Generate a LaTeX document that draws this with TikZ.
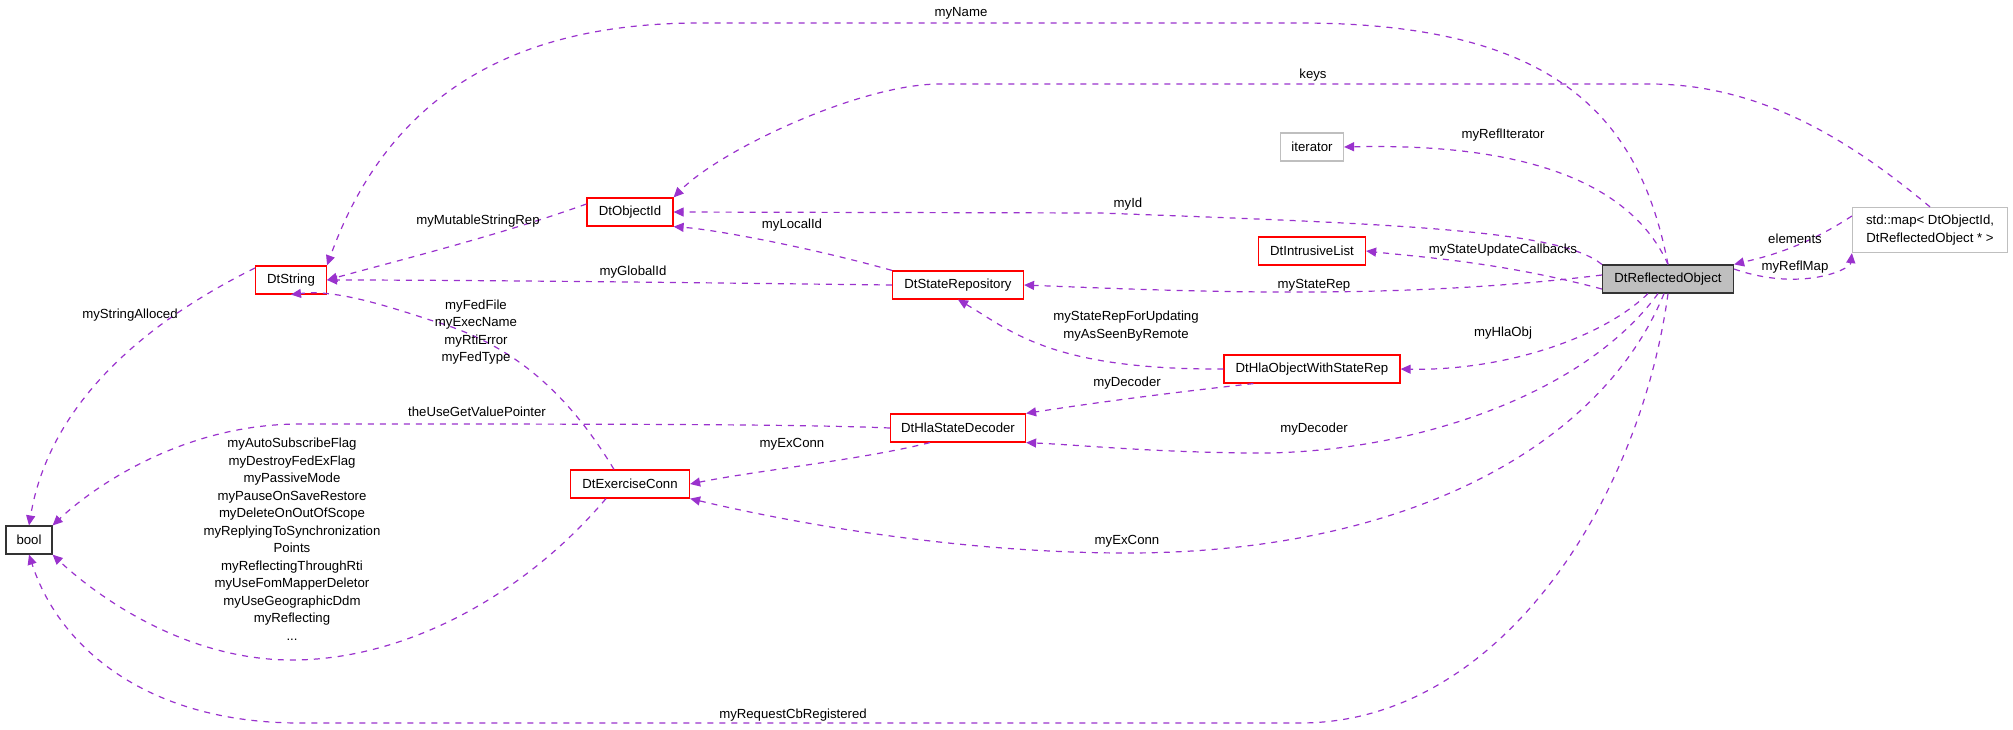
\documentclass[tikz,border=0pt]{standalone}
\usepackage{fontspec}
\setmainfont{Liberation Sans}
\usetikzlibrary{arrows.meta}
\definecolor{edgec}{HTML}{9A32CD}
\definecolor{boxred}{HTML}{FF0000}
\definecolor{boxgrey}{HTML}{BFBFBF}
\begin{document}
\begin{tikzpicture}[x=0.5pt,y=-0.5pt,
  font=\fontsize{6.6}{8.75}\selectfont,
  box/.style={draw=boxred,line width=0.6pt,minimum height=14pt,inner sep=0pt,fill=white},
  gbox/.style={box,draw=boxgrey},
  kbox/.style={box,draw=black!80},
  e/.style={draw=edgec,line width=0.6pt,dash pattern=on 3pt off 3pt,-{Triangle[length=5pt,width=4.5pt]}},
  lab/.style={inner sep=0pt,align=center}]
\useasboundingbox (0,0) rectangle (2013,729);
% nodes
\node[kbox,minimum width=23pt] (bool) at (29,540) {bool};
\node[box,minimum width=35.5pt] (str) at (291,280) {DtString};
\node[box,minimum width=43pt] (oid) at (630,212) {DtObjectId};
\node[box,minimum width=59.5pt] (exc) at (630,484) {DtExerciseConn};
\node[gbox,minimum width=31.5pt] (it) at (1312,147) {iterator};
\node[box,minimum width=53.5pt] (il) at (1312,251) {DtIntrusiveList};
\node[box,minimum width=65.5pt] (sr) at (958,285) {DtStateRepository};
\node[box,minimum width=88pt] (hla) at (1312,369) {DtHlaObjectWithStateRep};
\node[box,minimum width=67.5pt] (dec) at (958,428) {DtHlaStateDecoder};
\node[kbox,fill=boxgrey,minimum width=65.5pt] (ro) at (1668,279) {DtReflectedObject};
\node[gbox,minimum width=77.5pt,minimum height=22.5pt,align=center] (map) at (1930,230) {std::map\textless{} DtObjectId,\\ DtReflectedObject * \textgreater{}};
% edges
\draw[e] (ro.north) .. controls (1640,120) and (1560,23) .. (1300,23) -- (700,23) .. controls (520,23) and (390,90) .. (str.north east);
\draw[e] (map.north) .. controls (1850,140) and (1760,84) .. (1650,84) -- (940,84) .. controls (860,84) and (720,150) .. (oid.north east);
\draw[e] (ro.north) .. controls (1630,180) and (1520,143) .. (it.east);
\draw[e] (ro.north west) .. controls (1560,230) and (1400,224) .. (1100,213) -- (oid.east);
\draw[e] (ro.west) ++(0,-5pt) .. controls (1500,262) and (1420,257) .. (il.east);
\draw[e] (ro.west) ++(0,2pt) .. controls (1400,300) and (1200,292) .. (sr.east);
\draw[e] (ro.south) ++(-10pt,0) .. controls (1600,340) and (1500,371) .. (hla.east);
\draw[e] (ro.south) ++(-5pt,0) .. controls (1580,400) and (1400,455) .. (1250,453) .. controls (1150,452) and (1080,445) .. (dec.south east);
\draw[e] (ro.south) ++(-2pt,0) .. controls (1600,450) and (1400,553) .. (1127,553) .. controls (950,553) and (780,520) .. (exc.south east);
\draw[e] (ro.south) .. controls (1640,500) and (1500,723) .. (1300,723) -- (300,723) .. controls (150,723) and (60,650) .. (bool.south);
\draw[e] (ro.east) ++(0,5pt) .. controls (1800,292) and (1850,270) .. (map.south west);
\draw[e] (map.west) ++(0,7pt) .. controls (1800,250) and (1760,258) .. (ro.north east);
\draw[e] (oid.west) ++(0,4pt) .. controls (500,235) and (400,260) .. (str.east);
\draw[e] (sr.north west) .. controls (820,250) and (720,230) .. (oid.south east);
\draw[e] (sr.west) .. controls (800,284) and (500,280) .. (str.east);
\draw[e] (hla.west) .. controls (1050,370) and (1010,330) .. (sr.south);
\draw[e] (hla.south west) ++(15pt,0) .. controls (1150,395) and (1080,405) .. (dec.north east);
\draw[e] (dec.south west) ++(20pt,0) .. controls (860,460) and (760,470) .. (exc.east);
\draw[e] (dec.west) .. controls (800,424) and (600,424) .. (300,424) .. controls (180,424) and (90,490) .. (bool.north east);
\draw[e] (exc.north) ++(-8pt,0) .. controls (560,380) and (500,340) .. (430,320) .. controls (370,300) and (330,290) .. (str.south);
\draw[e] (exc.south) ++(-12pt,0) .. controls (520,600) and (400,660) .. (292,660) .. controls (180,660) and (90,590) .. (bool.south east);
\draw[e] (str.west) ++(0,6pt) .. controls (150,320) and (50,400) .. (bool.north);
% labels
\node[lab] (l1) at (961,13) {myName};
\node[lab] (l2) at (1313,75) {keys};
\node[lab] (l3) at (1503,135) {myReflIterator};
\node[lab] (l4) at (1128,204) {myId};
\node[lab] (l5) at (1503,250) {myStateUpdateCallbacks};
\node[lab] (l6) at (1314,285) {myStateRep};
\node[lab] (l7) at (1503,333) {myHlaObj};
\node[lab] (l8) at (1314,429) {myDecoder};
\node[lab] (l9) at (1127,541) {myExConn};
\node[lab] (l10) at (793,715) {myRequestCbRegistered};
\node[lab] (l11) at (1795,267) {myReflMap};
\node[lab] (l12) at (1795,239) {elements};
\node[lab] (l13) at (478,221) {myMutableStringRep};
\node[lab] (l14) at (792,225) {myLocalId};
\node[lab] (l15) at (633,272) {myGlobalId};
\node[lab] (l16) at (1126,326) {myStateRepForUpdating\\myAsSeenByRemote};
\node[lab] (l17) at (1127,383) {myDecoder};
\node[lab] (l18) at (792,444) {myExConn};
\node[lab] (l19) at (477,412) {theUseGetValuePointer};
\node[lab] (l20) at (476,332) {myFedFile\\myExecName\\myRtiError\\myFedType};
\node[lab] (l21) at (292,539) {myAutoSubscribeFlag\\myDestroyFedExFlag\\myPassiveMode\\myPauseOnSaveRestore\\myDeleteOnOutOfScope\\myReplyingToSynchronization\\Points\\myReflectingThroughRti\\myUseFomMapperDeletor\\myUseGeographicDdm\\myReflecting\\...};
\node[lab] (l22) at (130,315) {myStringAlloced};
\end{tikzpicture}
\end{document}
